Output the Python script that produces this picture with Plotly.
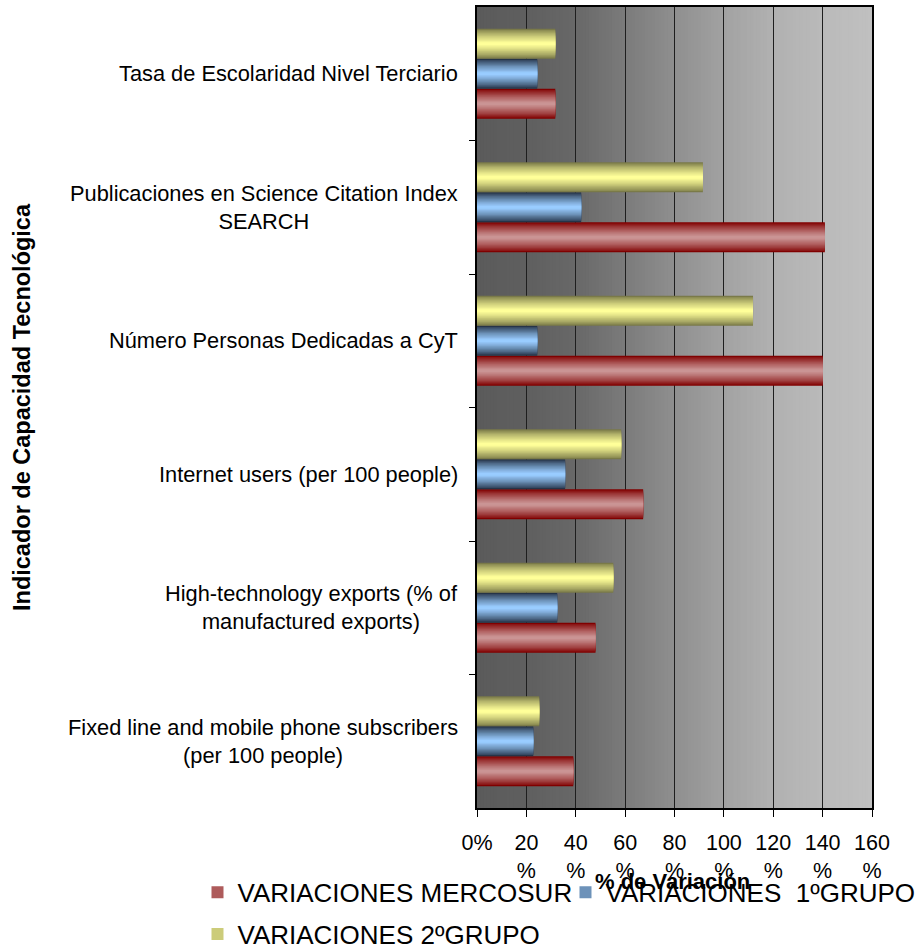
import plotly.graph_objects as go

# ---------------- data ----------------
categories = [
    "Fixed line and mobile phone subscribers<br>(per 100 people)",
    "High-technology exports (% of<br>manufactured exports)",
    "Internet users (per 100 people)",
    "Número Personas Dedicadas a CyT",
    "Publicaciones en Science Citation Index<br>SEARCH",
    "Tasa de Escolaridad Nivel Terciario",
]
variaciones_mercosur = [39.0, 48.0, 67.3, 140.1, 140.9, 31.7]
variaciones_grupo1 = [22.8, 32.5, 35.7, 24.4, 42.2, 24.4]
variaciones_grupo2 = [25.2, 55.2, 58.4, 111.8, 91.5, 31.7]
series_names = ["VARIACIONES MERCOSUR", "VARIACIONES  1ºGRUPO", "VARIACIONES 2ºGRUPO"]
x_tick_values = [0, 20, 40, 60, 80, 100, 120, 140, 160]
x_tick_labels = ["0%", "20<br>%", "40<br>%", "60<br>%", "80<br>%",
                 "100<br>%", "120<br>%", "140<br>%", "160<br>%"]
y_title = "Indicador de Capacidad Tecnológica"
x_title = "% de Variación"

# ---------------- style ----------------
FONT = "Liberation Sans, Arial, sans-serif"
edge_colors = [(128, 0, 0), (38, 52, 72), (122, 122, 72)]
center_colors = [(202, 148, 148), (153, 204, 255), (255, 255, 153)]
THICK = 0.225
bottoms = [-0.3375, -0.1125, 0.1125]
N_LAYERS = 12


def mix(a, b, t):
    return "rgb(%d,%d,%d)" % tuple(round(a[i] + (b[i] - a[i]) * t) for i in range(3))


fig = go.Figure()
series_values = [variaciones_mercosur, variaciones_grupo1, variaciones_grupo2]
legend_ids = ["legend", "legend", "legend2"]
for s, vals in enumerate(series_values):
    for k in range(N_LAYERS):
        t = k / (N_LAYERS - 1)
        inset = THICK / 2 * 0.9 * t
        fig.add_trace(go.Bar(
            y=list(range(len(categories))),
            x=vals,
            orientation="h",
            offset=bottoms[s] + inset,
            width=THICK - 2 * inset,
            marker=dict(color=mix(edge_colors[s], center_colors[s], t ** 0.8),
                        line=dict(width=0)),
            name=series_names[s],
            legendgroup=series_names[s],
            legend=legend_ids[s],
            showlegend=(k == N_LAYERS // 2),
            hoverinfo="skip" if k else "x+name",
        ))

# background gradient (dark left to light right)
stops = [(0.0, 0x5b), (0.125, 0x5f), (0.25, 0x68), (0.375, 0x7b), (0.5, 0x8f),
         (0.625, 0xa2), (0.75, 0xb1), (0.875, 0xba), (1.0, 0xc0)]
shapes = []
NS = 120
for i in range(NS):
    xm = (i + 0.5) / NS
    for j in range(len(stops) - 1):
        if stops[j][0] <= xm <= stops[j + 1][0]:
            tt = (xm - stops[j][0]) / (stops[j + 1][0] - stops[j][0])
            g = round(stops[j][1] + (stops[j + 1][1] - stops[j][1]) * tt)
            break
    shapes.append(dict(type="rect", xref="x domain", yref="y domain",
                       x0=i / NS, x1=(i + 1) / NS + 0.002, y0=0, y1=1,
                       fillcolor="rgb(%d,%d,%d)" % (g, g, g),
                       line=dict(width=0), layer="below"))

annotations = []
for i, cat in enumerate(categories):
    annotations.append(dict(x=-0.042, xref="paper", y=i, yref="y",
                            text=cat, showarrow=False, xanchor="right",
                            yanchor="middle", align="center",
                            font=dict(family=FONT, size=21.8, color="black")))
annotations.append(dict(x=0.496, xref="paper", y=-0.0917, yref="paper",
                        text="<b>" + x_title + "</b>", showarrow=False,
                        xanchor="center", yanchor="middle",
                        font=dict(family=FONT, size=22, color="black")))

fig.update_layout(
    width=915, height=948,
    margin=dict(l=477, r=43, t=7, b=140, autoexpand=False),
    paper_bgcolor="white",
    plot_bgcolor="#909090",
    barmode="overlay",
    font=dict(family=FONT, size=20, color="black"),
    shapes=shapes,
    annotations=annotations,
    legend=dict(orientation="h", x=-0.7076, xanchor="left", y=-0.1054,
                yanchor="middle", font=dict(family=FONT, size=26, color="black"),
                bgcolor="rgba(0,0,0,0)", traceorder="normal",
                entrywidth=323, entrywidthmode="pixels"),
    legend2=dict(orientation="h", x=-0.7076, xanchor="left", y=-0.1575,
                 yanchor="middle", font=dict(family=FONT, size=26, color="black"),
                 bgcolor="rgba(0,0,0,0)"),
    xaxis=dict(range=[0, 160], tickvals=x_tick_values, ticktext=x_tick_labels,
               showgrid=True, gridcolor="#1e1e1e", gridwidth=1.2,
               showline=True, linecolor="black", linewidth=1.5, mirror=True,
               ticks="outside", ticklen=7, tickcolor="black",
               ticklabelstandoff=7, zeroline=False,
               tickfont=dict(family=FONT, size=21.5, color="black")),
    yaxis=dict(range=[-0.5, len(categories) - 0.5], type="linear",
               tickvals=[i + 0.5 for i in range(len(categories) - 1)],
               showticklabels=False, showgrid=False, zeroline=False,
               showline=True, linecolor="black", linewidth=1.5, mirror=True,
               ticks="outside", ticklen=6, tickcolor="black",
               title=dict(text="<b>" + y_title + "</b>", standoff=432,
                          font=dict(family=FONT, size=23.5, color="black"))),
)

fig.write_html("out.html", config={"displayModeBar": False},
               post_script="document.body.style.margin='0px';")
